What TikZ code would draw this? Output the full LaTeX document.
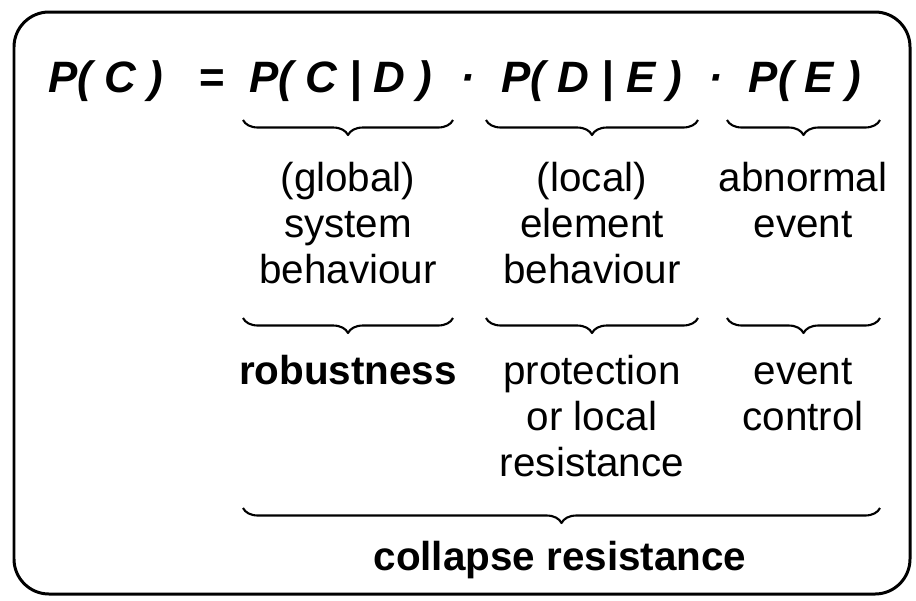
\documentclass[tikz,border=0pt]{standalone}
\usepackage{fontspec}
\setmainfont{Liberation Sans}
\usetikzlibrary{decorations.pathreplacing}
\begin{document}
\begin{tikzpicture}[x=0.02cm, y=-0.02cm, line join=round,
	every node/.style={inner sep=0pt, outer sep=0pt},
	term/.style={font=\fontsize{25}{28}\selectfont\bfseries\itshape, anchor=base},
	lbl/.style={font=\fontsize{23}{26}\selectfont, align=center},
	curly/.style={decorate, decoration={brace, mirror, amplitude=0.3cm}, line width=1.2pt}]

	\useasboundingbox (0, 0) rectangle (916, 600);

	% Rahmen
	\draw[line width=1.7pt, rounded corners=0.7cm] (14, 12) rectangle (910, 594);

	% Formel
	\node[term] (lhs) at (106, 92) {P( C )};
	\node[term, font=\fontsize{25}{28}\selectfont\bfseries] (eq) at (212, 92) {=};
	\node[term] (pcd) at (341, 92) {P( C | D )};
	\node[term] (dotA) at (468, 92) {·};
	\node[term] (pde) at (592, 92) {P( D | E )};
	\node[term] (dotB) at (716, 92) {·};
	\node[term] (pe) at (805, 92) {P( E )};

	% Klammern 1
	\coordinate (b1l) at (243, 120);
	\coordinate (b1r) at (453, 120);
	\coordinate (b2l) at (486, 120);
	\coordinate (b2r) at (698, 120);
	\coordinate (b3l) at (727, 120);
	\coordinate (b3r) at (880, 120);
	\draw[curly] (b1l) -- (b1r);
	\draw[curly] (b2l) -- (b2r);
	\draw[curly] (b3l) -- (b3r);

	\node[lbl, anchor=north] (sys) at (348, 160) {\strut(global)\\system\\behaviour};
	\node[lbl, anchor=north] (elem) at (592, 160) {\strut(local)\\element\\behaviour};
	\node[lbl, anchor=north] (event) at (803, 160) {\strut abnormal\\event};

	% Klammern 2
	\coordinate (c1l) at (243, 318);
	\coordinate (c1r) at (453, 318);
	\coordinate (c2l) at (486, 318);
	\coordinate (c2r) at (698, 318);
	\coordinate (c3l) at (727, 318);
	\coordinate (c3r) at (880, 318);
	\draw[curly] (c1l) -- (c1r);
	\draw[curly] (c2l) -- (c2r);
	\draw[curly] (c3l) -- (c3r);

	\node[lbl, anchor=north, font=\fontsize{23}{26}\selectfont\bfseries] (robust) at (348, 353) {\strut robustness};
	\node[lbl, anchor=north] (protect) at (592, 353) {\strut protection\\or local\\resistance};
	\node[lbl, anchor=north] (ctrl) at (803, 353) {\strut event\\control};

	% Gesamtklammer
	\coordinate (dl) at (243, 508);
	\coordinate (dr) at (880, 508);
	\draw[curly] (dl) -- (dr);
	\node[lbl, font=\fontsize{23}{26}\selectfont\bfseries] (collapse) at (560, 560) {collapse resistance};
\end{tikzpicture}
\end{document}
